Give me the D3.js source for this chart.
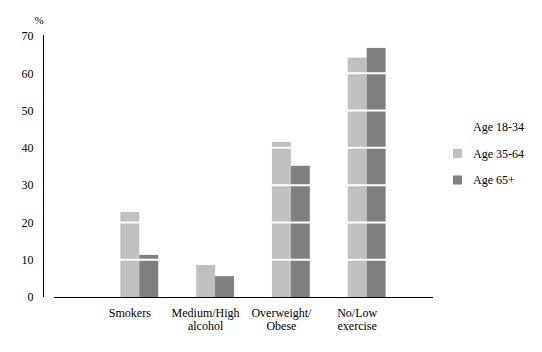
<!DOCTYPE html>
<html>
<head>
<meta charset="utf-8">
<script src="https://cdn.jsdelivr.net/npm/d3@7"></script>
<style>
  body { margin: 0; background: #fff; }
</style>
</head>
<body>
<div id="chart"></div>
<script>
const categories = [['Smokers'], ['Medium/High', 'alcohol'], ['Overweight/', 'Obese'], ['No/Low', 'exercise']];
const seriesNames = ['Age 18-34', 'Age 35-64', 'Age 65+'];
const age1834 = [0, 0, 0, 0];
const age3564 = [22.8, 8.6, 41.6, 64.2];
const age65 = [11.3, 5.6, 35.2, 66.8];
const yTicks = [0, 10, 20, 30, 40, 50, 60, 70];
const colors = ['#ffffff', '#c0c0c0', '#808080'];

const W = 542, H = 352;
const FONT = 'Liberation Serif';
const svg = d3.select('#chart').append('svg').attr('width', W).attr('height', H)
  .style('font-family', FONT);

const catKeys = categories.map(c => c.join(' '));
const values = [age1834, age3564, age65];
const rows = catKeys.map((k, i) => ({ key: k, lines: categories[i], vals: values.map(s => s[i]) }));

const x0 = d3.scaleBand().domain(catKeys).range([54, 433]).paddingOuter(0.5).paddingInner(0);
const x1 = d3.scaleBand().domain(seriesNames).range([0, x0.bandwidth()]).paddingOuter(0.5);
const y = d3.scaleLinear().domain([0, 70]).range([297, 36]);

// Bars
const groups = svg.append('g').selectAll('g')
  .data(rows)
  .join('g')
  .attr('transform', d => `translate(${x0(d.key)},0)`);

groups.selectAll('rect')
  .data(d => d.vals.map((v, i) => ({ v, s: seriesNames[i], i })))
  .join('rect')
  .attr('x', d => x1(d.s))
  .attr('width', x1.bandwidth())
  .attr('y', d => y(d.v))
  .attr('height', d => y(0) - y(d.v))
  .attr('fill', d => colors[d.i]);

// White gridlines over bars
svg.append('g').selectAll('line')
  .data(yTicks.filter(t => t > 0))
  .join('line')
  .attr('x1', 54).attr('x2', 433)
  .attr('y1', d => y(d)).attr('y2', d => y(d))
  .attr('stroke', '#fff').attr('stroke-width', 2);

// Y axis
const yAxis = svg.append('g').attr('transform', 'translate(43.5,0)')
  .call(d3.axisLeft(y).tickValues(yTicks).tickSize(0).tickPadding(10).tickFormat(d3.format('d')))
  .attr('font-family', FONT);
yAxis.select('.domain').attr('stroke', '#000').attr('d', `M0,${y(70) - 1}V${y(0)}`);
yAxis.selectAll('text').attr('font-size', '12px').attr('fill', '#000').style('font-family', FONT);

svg.append('text')
  .attr('x', 39).attr('y', 24)
  .attr('text-anchor', 'middle')
  .style('font-family', FONT)
  .attr('font-size', '11px')
  .text('%');

// X axis line
svg.append('line')
  .attr('x1', 54).attr('x2', 433)
  .attr('y1', y(0) + 0.5).attr('y2', y(0) + 0.5)
  .attr('stroke', '#000').attr('stroke-width', 1);

// Category labels, one text per line
const labelData = rows.flatMap(d => d.lines.map((line, i) => ({ key: d.key, line, i })));
svg.append('g').selectAll('text')
  .data(labelData)
  .join('text')
  .attr('x', d => x0(d.key) + x0.bandwidth() / 2)
  .attr('y', d => 316.5 + d.i * 13.5)
  .attr('text-anchor', 'middle')
  .style('font-family', FONT)
  .attr('font-size', '12px')
  .text(d => d.line);

// Legend
const legend = svg.append('g').selectAll('g')
  .data(seriesNames)
  .join('g')
  .attr('transform', (d, i) => `translate(453,${127 + i * 26.5})`);
legend.append('rect')
  .attr('x', 0).attr('y', -4.5)
  .attr('width', 9).attr('height', 9)
  .attr('fill', (d, i) => colors[i]);
legend.append('text')
  .attr('x', 20).attr('y', 4)
  .style('font-family', FONT)
  .attr('font-size', '12px')
  .text(d => d);
</script>
</body>
</html>
